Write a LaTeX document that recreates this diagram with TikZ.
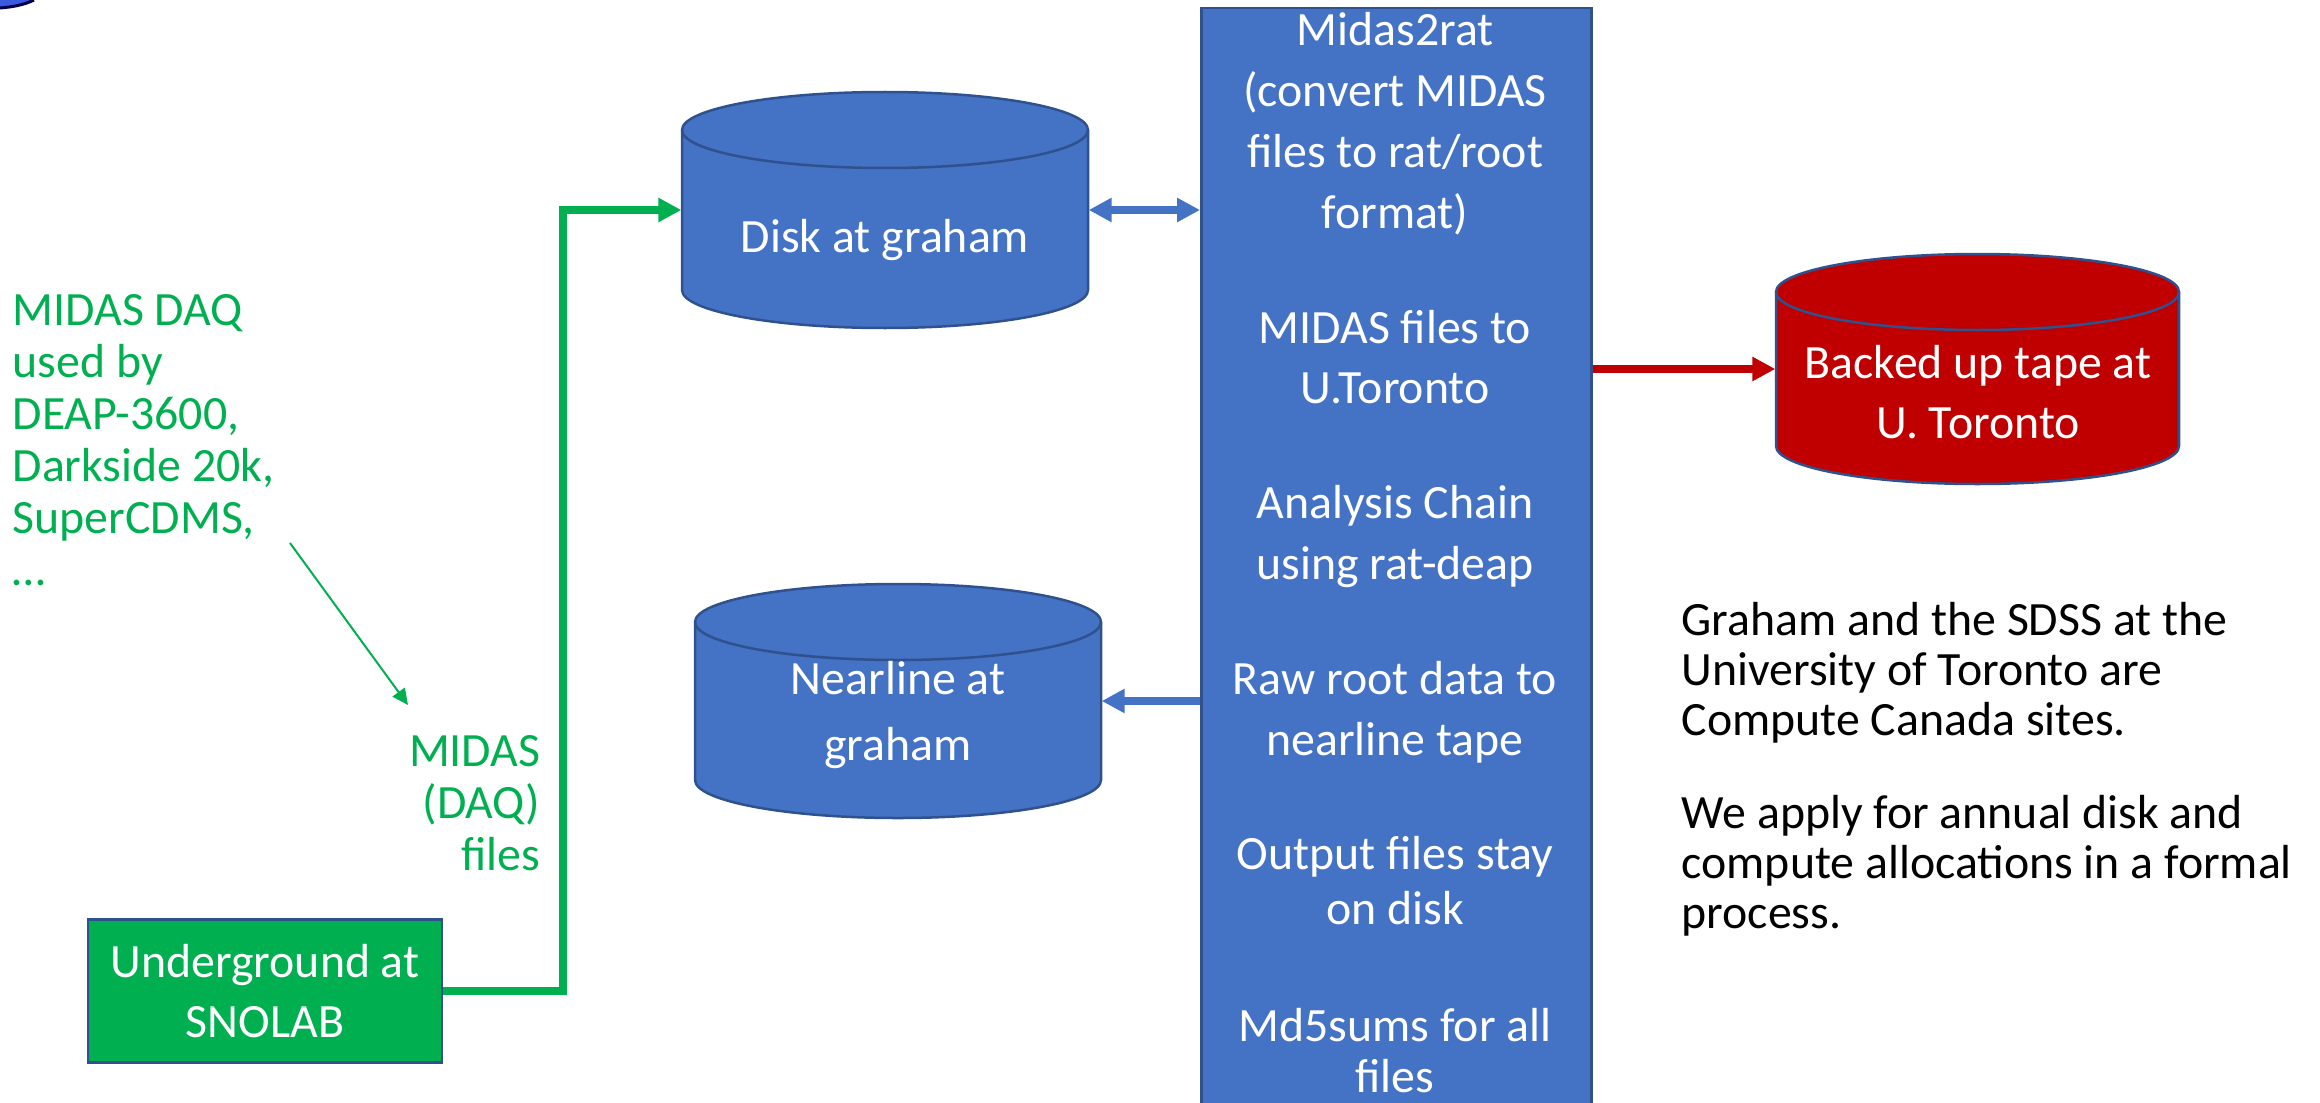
\documentclass[tikz,border=0pt]{standalone}
\usepackage{fontspec}
\setmainfont{Carlito}
\usetikzlibrary{arrows.meta}
\definecolor{ppblue}{HTML}{4472C4}
\definecolor{ppedge}{HTML}{2F528F}
\definecolor{ppred}{HTML}{C00000}
\definecolor{ppgreen}{HTML}{00B050}
\definecolor{logoblue}{HTML}{3A5BE0}

% can-shaped store: name, left, top, right, bottom, fill
\newcommand\drum[6]{%
  \filldraw[fill=#6, draw=ppedge, line width=0.25mm] (#2,#3+38) -- (#2,#5-38)
    arc[start angle=180, end angle=0, x radius={(#4-#2)/2}, y radius=38] -- (#4,#3+38)
    arc[start angle=0, end angle=-180, x radius={(#4-#2)/2}, y radius=38] -- cycle;
  \draw[ppedge, line width=0.25mm] (#2,#3+38) arc[start angle=180, end angle=0, x radius={(#4-#2)/2}, y radius=38];
  \node[inner sep=0pt, minimum width={(#4-#2)*0.1mm}, minimum height={(#5-#3)*0.1mm}] (#1) at ({(#2+#4)/2},{(#3+#5)/2}) {};
}

\begin{document}
\begin{tikzpicture}[x=0.1mm, y=-0.1mm, >={Triangle[length=2.3mm,width=2.3mm]},
    whitetext/.style={text=white, align=center, inner sep=0pt, font=\fontsize{13.6pt}{17.3pt}\selectfont},
    greentext/.style={text=ppgreen, inner sep=0pt, font=\fontsize{13.6pt}{14.8pt}\selectfont},
    blacktext/.style={inner sep=0pt, align=left, font=\fontsize{13.6pt}{14.2pt}\selectfont},
    panel/.style={draw=ppedge, line width=0.25mm, inner sep=0pt},
    flow/.style={->, line width=0.78mm}]
\useasboundingbox (0,0) rectangle (2320,1102);
\clip (0,0) rectangle (2320,1102);
%\draw[help lines] (0,0) grid[step=100] (2320,1102);
\fill[logoblue] (0,0) -- (34,0) .. controls (24,5) and (12,7) .. (0,8) -- cycle;
\draw[black!70!blue, line width=0.3mm] (34,0) .. controls (24,5) and (12,7) .. (0,8);

\drum{disk}{682}{92}{1088}{328}{ppblue}
\drum{near}{695}{584}{1101}{818}{ppblue}
\drum{tape}{1776}{254}{2179}{484}{ppred}
\node[whitetext] (disklbl) at (885,240) {Disk at graham};
\node[whitetext] (nearlbl) at (898,715) {Nearline at\\[0.5mm]graham};
\node[whitetext] (tapelbl) at (1978,392) {Backed up tape at\\U. Toronto};

\node[panel, fill=ppblue, minimum width=39.0mm, minimum height=110.3mm, anchor=north west] (chain) at (1200,7) {};
\node[whitetext, anchor=north] (steps) at (1395,12) {Midas2rat\\(convert MIDAS\\files to rat/root\\format)\\[5.4mm]MIDAS files to\\U.Toronto\\[5.4mm]Analysis Chain\\using rat-deap\\[5.4mm]Raw root data to\\nearline tape\\[5.4mm]Output files stay\\[-0.6mm]on disk\\[5.6mm]Md5sums for all\\[-1.0mm]files};

\node[panel, fill=ppgreen, whitetext, minimum width=35.4mm, minimum height=14.3mm] (ug) at (265,991) {Underground at\\SNOLAB};

\node[greentext, align=left, anchor=north west] (daqlist) at (12,294) {MIDAS DAQ\\used by\\DEAP-3600,\\Darkside 20k,\\SuperCDMS,\\…};
\node[greentext, align=right, anchor=north east] (daqfiles) at (541,735) {MIDAS\\(DAQ)\\files};
\node[blacktext, anchor=north west] (note) at (1681,602) {Graham and the SDSS at the\\University of Toronto are\\Compute Canada sites.\\[4.3mm]We apply for annual disk and\\compute allocations in a formal\\process.};

\draw[flow, <->, ppblue] (disk.east) -- (disk.east -| chain.west);
\draw[flow, ppblue] (near.east -| chain.west) -- (near.east);
\draw[flow, ppred] (tape.west -| chain.east) -- (tape.west);
\draw[flow, ppgreen] (ug.east) -- ++(120,0) |- (disk.west);
\coordinate (hintfrom) at (290,543);
\coordinate (hintto) at (408,705);
\draw[-{Triangle[length=1.6mm,width=1.5mm]}, ppgreen, line width=0.2mm] (hintfrom) -- (hintto);
\end{tikzpicture}
\end{document}
